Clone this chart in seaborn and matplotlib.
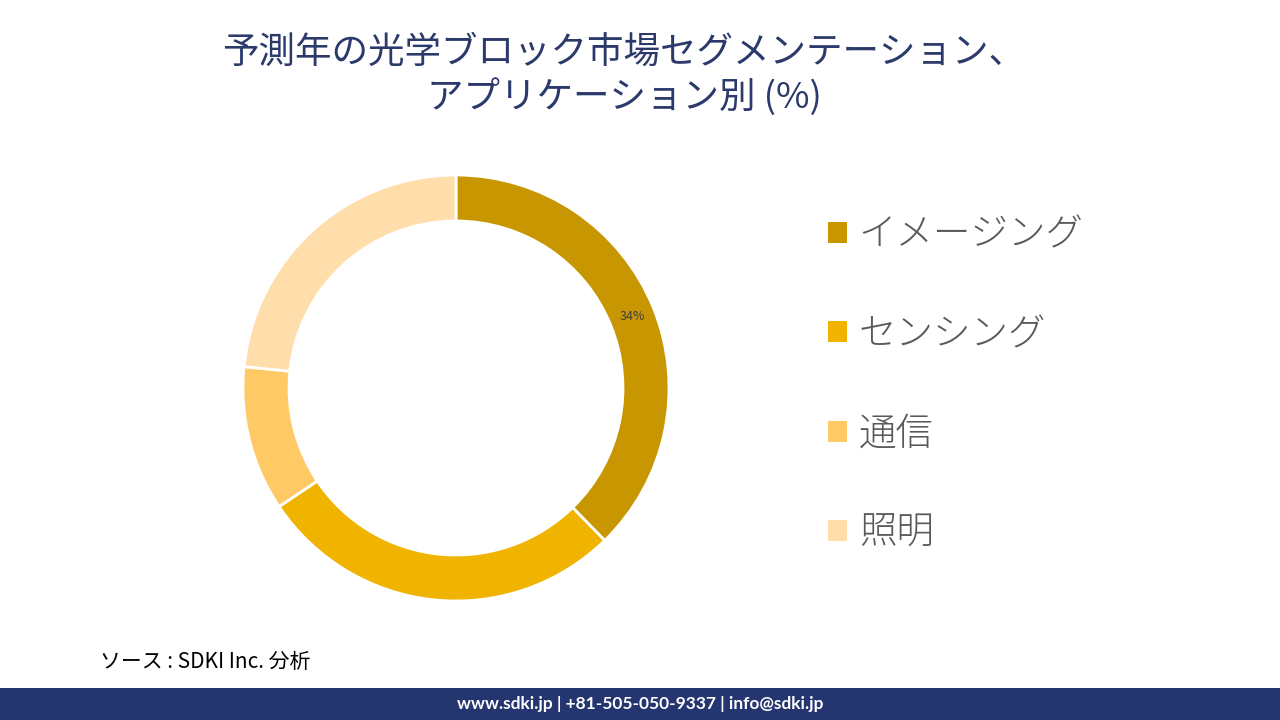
import matplotlib
matplotlib.use("Agg")
import matplotlib.pyplot as plt
import seaborn as sns
import numpy as np
from matplotlib.patches import Patch, Rectangle

categories = ["イメージング", "センシング", "通信", "照明"]
shares = [37.7, 27.9, 11.0, 23.4]
shown_label = "34%"
colors = ["#C89600", "#F0B400", "#FFC966", "#FFDEAB"]

title = "予測年の光学ブロック市場セグメンテーション、\nアプリケーション別 (%)"
source = "ソース : SDKI Inc. 分析"
footer = "www.sdki.jp | +81-505-050-9337 | info@sdki.jp"

sns.set_theme(style="white")
plt.rcParams["font.family"] = ["Noto Sans CJK JP", "DejaVu Sans"]

fig = plt.figure(figsize=(12.8, 7.2), dpi=100)
fig.patch.set_facecolor("white")

cx, cy, r = 456, 388, 213
ax = fig.add_axes([(cx - r) / 1280, (720 - cy - r) / 720, 2 * r / 1280, 2 * r / 720])
wedges, _ = ax.pie(shares, colors=colors, startangle=90, counterclock=False,
                   radius=1.0, wedgeprops=dict(width=46 / 213, edgecolor="white", linewidth=2))
ax.set_xlim(-1, 1)
ax.set_ylim(-1, 1)
ax.set_aspect("equal")
ax.axis("off")

w0 = wedges[0]
mid = np.deg2rad((w0.theta1 + w0.theta2) / 2)
rr = 1 - (46 / 213) / 2
ax.text(rr * np.cos(mid), rr * np.sin(mid), shown_label, ha="center", va="center",
        fontsize=9, color="#404040")

handles = [Patch(facecolor=c, edgecolor="none") for c in colors]
leg = fig.legend(handles, categories, loc="upper left",
                 bbox_to_anchor=(813 / 1280, 1 - 200 / 720),
                 frameon=False, borderaxespad=0.0,
                 prop=dict(family=["Noto Sans CJK JP"], size=27, weight="light"),
                 labelspacing=1.6, handlelength=0.5, handleheight=0.5,
                 handletextpad=0.32, labelcolor="#595959")

fig.text(624 / 1280, 1 - 75 / 720, title, ha="center", va="center", fontsize=26.3,
         color="#2B3A6B", linespacing=1.25)

fig.text(100 / 1280, 1 - 662 / 720, source, ha="left", va="center", fontsize=15,
         color="black", style="italic")

fig.patches.append(Rectangle((0, 0), 1, 32 / 720, transform=fig.transFigure,
                             facecolor="#253570", edgecolor="none"))
fig.text(0.5, 16 / 720, footer, ha="center", va="center", fontsize=12.5,
         color="white", fontweight="bold", family=["Lato", "DejaVu Sans"])

fig.savefig("out.png", dpi=100)
